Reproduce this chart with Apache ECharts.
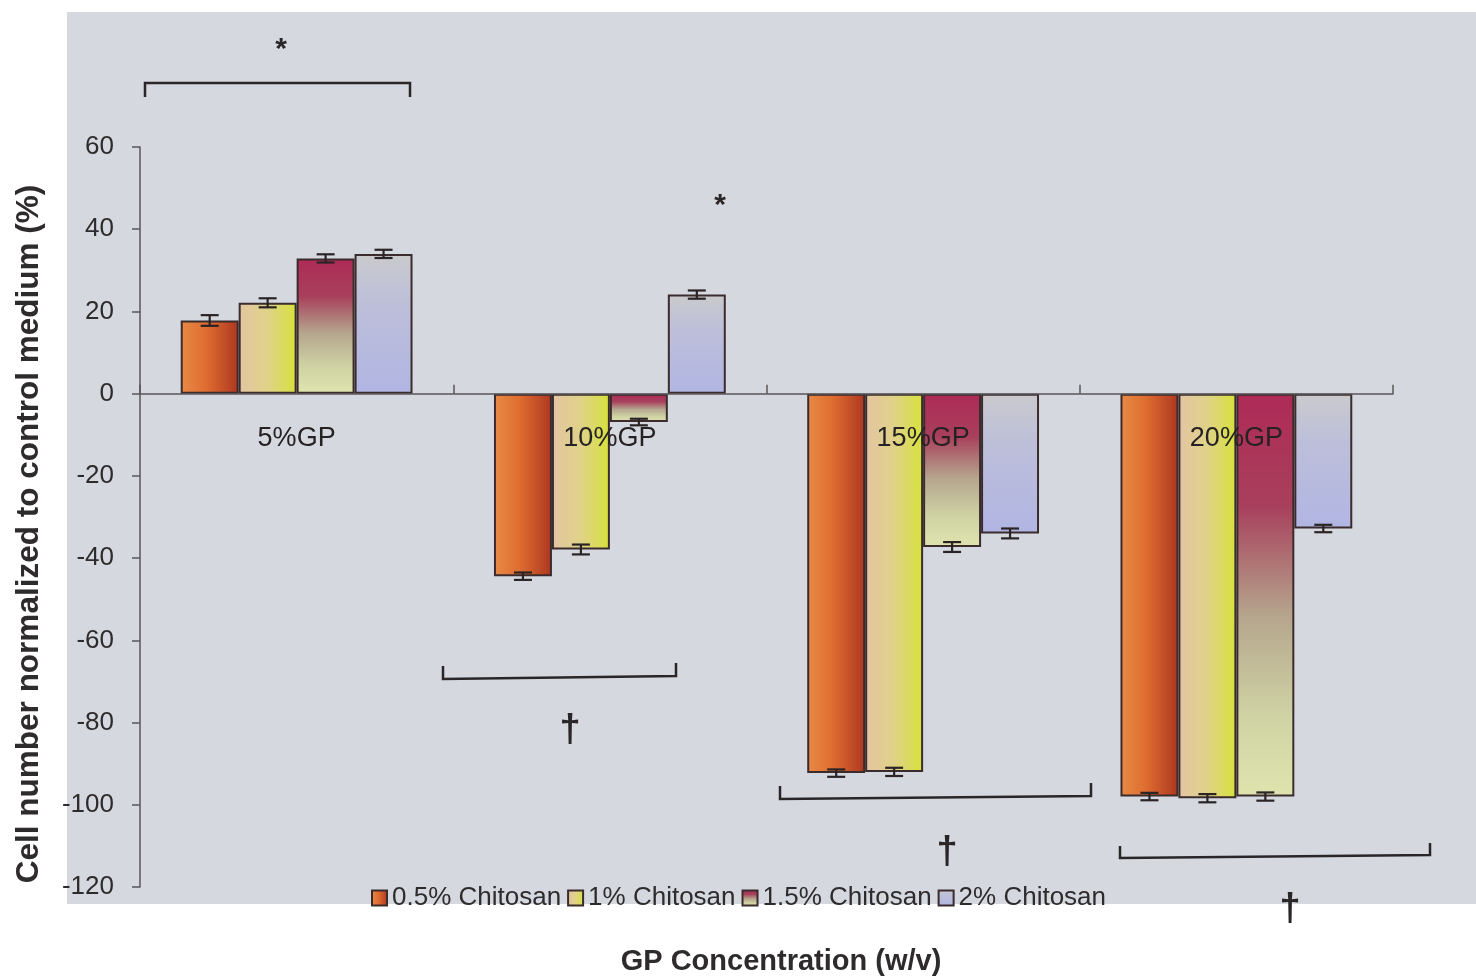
<!DOCTYPE html>
<html>
<head>
<meta charset="utf-8">
<script src="https://cdn.jsdelivr.net/npm/echarts@6/dist/echarts.min.js"></script>
<style>
html,body{margin:0;padding:0;background:#fff;}
#chart{width:1476px;height:977px;}
</style>
</head>
<body>
<div id="chart"></div>
<script>
// ---- data ----
const categories = ['5%GP', '10%GP', '15%GP', '20%GP'];
const seriesNames = ['0.5% Chitosan', '1% Chitosan', '1.5% Chitosan', '2% Chitosan'];
const chitosan05 = [17.8, -44.4, -92.3, -98.0];
const chitosan1  = [22.1, -37.9, -92.0, -98.4];
const chitosan15 = [32.9, -6.9, -37.3, -98.0];
const chitosan2  = [34.0, 24.1, -34.0, -32.8];
const err05 = [1.3, 0.9, 0.9, 0.9];
const err1  = [1.1, 1.2, 1.0, 1.0];
const err15 = [1.0, 0.8, 1.2, 1.0];
const err2  = [1.0, 1.0, 1.2, 0.9];
const yMin = -120, yMax = 60, yInterval = 20;

const values = [chitosan05, chitosan1, chitosan15, chitosan2];
const errors = [err05, err1, err15, err2];

const FONT = "'Liberation Sans', Arial, Helvetica, sans-serif";
const TXT = '#2e2b2d';
const BAR_GAP_CAT = 0.26;

const fills = [
  {type: 'linear', x: 0, y: 0, x2: 1, y2: 0, colorStops: [
    {offset: 0, color: '#e98a45'}, {offset: 0.45, color: '#de6c30'}, {offset: 1, color: '#ad3620'}]},
  {type: 'linear', x: 0, y: 0, x2: 1, y2: 0, colorStops: [
    {offset: 0, color: '#e3c5a3'}, {offset: 0.5, color: '#e0d288'}, {offset: 1, color: '#d6e23a'}]},
  {type: 'linear', x: 0, y: 0, x2: 0, y2: 1, colorStops: [
    {offset: 0, color: '#ae2a57'}, {offset: 0.28, color: '#a8405c'}, {offset: 0.55, color: '#b5a58d'},
    {offset: 0.8, color: '#cfd3a4'}, {offset: 1, color: '#dfe4ae'}]},
  {type: 'linear', x: 0, y: 0, x2: 0, y2: 1, colorStops: [
    {offset: 0, color: '#cacacd'}, {offset: 0.35, color: '#bdbfd9'}, {offset: 1, color: '#b1b5e3'}]}
];

const barSeries = seriesNames.map((name, k) => ({
  name: name,
  type: 'bar',
  data: values[k],
  barGap: '0%',
  barCategoryGap: (BAR_GAP_CAT * 100) + '%',
  itemStyle: {color: fills[k], borderColor: '#3a2b2c', borderWidth: 2},
  z: 2
}));

const errSeries = seriesNames.map((name, k) => ({
  name: name + ' error',
  type: 'custom',
  z: 4,
  silent: true,
  data: values[k].map((v, i) => [i, v, errors[k][i]]),
  renderItem: function (params, api) {
    const idx = api.value(0), v = api.value(1), e = api.value(2);
    const band = api.size([1, 0])[0];
    const bw = band * (1 - BAR_GAP_CAT) / 4;
    const cx = api.coord([idx, 0])[0] + (k - 1.5) * bw;
    const yT = api.coord([idx, v + e])[1];
    const yB = api.coord([idx, v - e])[1];
    const hw = 9;
    const st = {stroke: '#2a2426', lineWidth: 2.2};
    return {type: 'group', children: [
      {type: 'line', shape: {x1: cx, y1: yT, x2: cx, y2: yB}, style: st},
      {type: 'line', shape: {x1: cx - hw, y1: yT, x2: cx + hw, y2: yT}, style: st},
      {type: 'line', shape: {x1: cx - hw, y1: yB, x2: cx + hw, y2: yB}, style: st}
    ]};
  }
}));

// category names drawn on the zero line (like the original)
const catLabelSeries = {
  name: 'category labels',
  type: 'scatter',
  z: 6,
  silent: true,
  symbolSize: 0,
  itemStyle: {opacity: 1},
  data: categories.map((c, i) => [i, 0]),
  label: {
    show: true, position: 'bottom', distance: 31, opacity: 1,
    formatter: (p) => categories[p.dataIndex],
    fontSize: 27, color: '#262224', fontFamily: FONT
  }
};

const bracketStyle = {stroke: '#2a2628', lineWidth: 2.5, fill: null};
function bracket(pts) { return {type: 'polyline', silent: true, z: 20, shape: {points: pts}, style: bracketStyle}; }
function mark(txt, x, y, size) {
  return {type: 'text', silent: true, z: 20, x: x, y: y,
    style: {text: txt, font: 'bold ' + size + 'px ' + FONT, fill: '#2a2628', textAlign: 'center', textVerticalAlign: 'middle'}};
}

const chart = echarts.init(document.getElementById('chart'));
chart.setOption({
  backgroundColor: '#ffffff',
  animation: false,
  grid: {left: 140, right: 83, top: 147, bottom: 90, containLabel: false},
  legend: {
    data: seriesNames,
    left: 366, top: 880,
    icon: 'rect', itemWidth: 15, itemHeight: 15, itemGap: 6,
    textStyle: {fontSize: 26, color: TXT, fontFamily: FONT}
  },
  xAxis: {
    type: 'category',
    data: categories,
    z: 5,
    axisLine: {onZero: true, lineStyle: {color: '#5a5658', width: 1.5}},
    axisTick: {show: true, inside: true, length: 9, alignWithLabel: false, lineStyle: {color: '#5a5658', width: 1.5}},
    axisLabel: {show: false},
    splitLine: {show: false}
  },
  yAxis: {
    type: 'value',
    min: yMin, max: yMax, interval: yInterval,
    axisLine: {show: true, lineStyle: {color: '#5a5658', width: 1.5}},
    axisTick: {show: true, length: 8, lineStyle: {color: '#5a5658', width: 1.5}},
    axisLabel: {fontSize: 26, color: TXT, fontFamily: FONT, margin: 26},
    splitLine: {show: false}
  },
  graphic: [
    {type: 'rect', silent: true, z: -10, shape: {x: 67, y: 12, width: 1409, height: 892}, style: {fill: '#d6d8e0'}},
    {type: 'text', silent: true, z: 20, x: 29, y: 534, rotation: Math.PI / 2,
      style: {text: 'Cell number normalized to control medium (%)', font: 'bold 31.5px ' + FONT, fill: TXT,
        textAlign: 'center', textVerticalAlign: 'middle'}},
    {type: 'text', silent: true, z: 20, x: 781, y: 962,
      style: {text: 'GP Concentration (w/v)', font: 'bold 29px ' + FONT, fill: TXT,
        textAlign: 'center', textVerticalAlign: 'middle'}},
    bracket([[145, 97], [145, 83], [410, 83], [410, 97]]),
    mark('*', 281, 50, 30),
    mark('*', 720, 206, 30),
    bracket([[443, 666], [443, 679], [676, 676], [676, 663]]),
    mark('†', 570, 731, 38),
    bracket([[780, 786], [780, 799], [1091, 796], [1091, 783]]),
    mark('†', 947, 853, 38),
    bracket([[1120, 846], [1120, 858], [1430, 855], [1430, 843]]),
    mark('†', 1290, 910, 38)
  ],
  series: barSeries.concat(errSeries, [catLabelSeries])
});
</script>
</body>
</html>
